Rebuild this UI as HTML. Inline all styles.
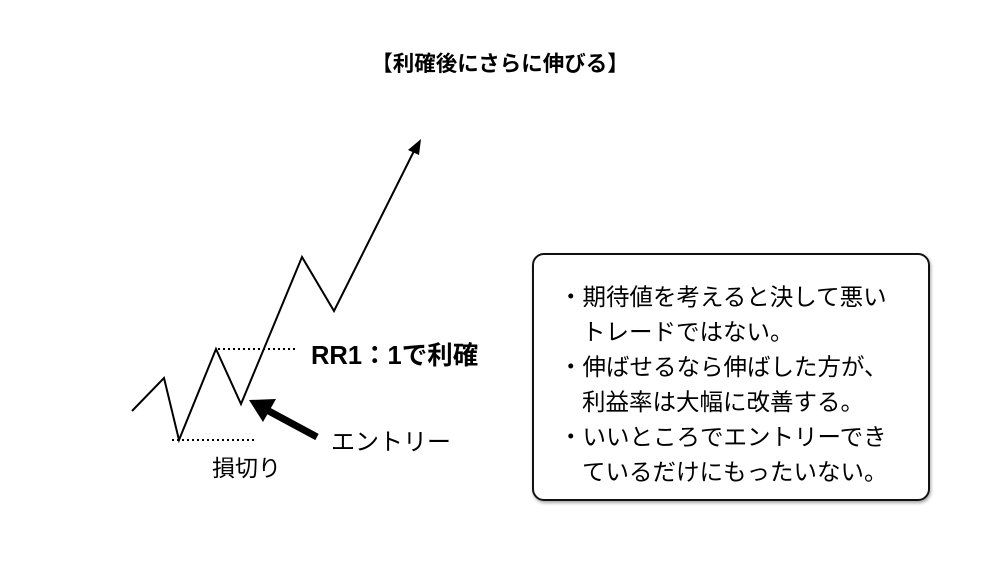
<!DOCTYPE html>
<html><head><meta charset="utf-8"><style>
body{margin:0;width:1000px;height:563px;background:#fff;overflow:hidden;position:relative;font-family:"Liberation Sans","Noto Sans CJK JP",sans-serif;color:#000}
.t{position:absolute;white-space:nowrap}
.box{position:absolute;left:532px;top:253px;width:398px;height:248px;border:2px solid #111;border-radius:12px;box-sizing:border-box;box-shadow:1px 2px 3px rgba(0,0,0,.35)}
.box div{position:absolute;left:25px;font-size:23.5px;line-height:35px;white-space:nowrap}
</style></head><body>
<div class="t" style="left:0;width:1000px;text-align:center;top:47px;font-size:21.5px;font-weight:bold">【利確後にさらに伸びる】</div>
<svg width="1000" height="563" style="position:absolute;left:0;top:0">
<polyline points="132,411 164,378 179,440 216,349 241,404 302,257 334,311 416,147" fill="none" stroke="#000" stroke-width="2"/>
<polygon points="421,139 408,150 419,155" fill="#000"/>
<line x1="218" y1="349" x2="297" y2="349" stroke="#000" stroke-width="2" stroke-dasharray="2,3"/>
<line x1="172" y1="440" x2="255" y2="440" stroke="#000" stroke-width="2" stroke-dasharray="2,3"/>
<line x1="317" y1="437" x2="265" y2="409" stroke="#000" stroke-width="7"/>
<polygon points="249,400 276,399 263,422" fill="#000"/>
</svg>
<div class="t" style="left:311px;top:335px;font-size:25.5px;font-weight:bold">RR1：1で利確</div>
<div class="t" style="left:331px;top:422px;font-size:24px">エントリー</div>
<div class="t" style="left:212px;top:449px;font-size:23px">損切り</div>
<div class="box">
<div style="top:25px">・期待値を考えると決して悪い</div>
<div style="top:60px;left:48px">トレードではない。</div>
<div style="top:95px">・伸ばせるなら伸ばした方が、</div>
<div style="top:130px;left:48px">利益率は大幅に改善する。</div>
<div style="top:165px">・いいところでエントリーでき</div>
<div style="top:200px;left:48px">ているだけにもったいない。</div>
</div>
</body></html>
